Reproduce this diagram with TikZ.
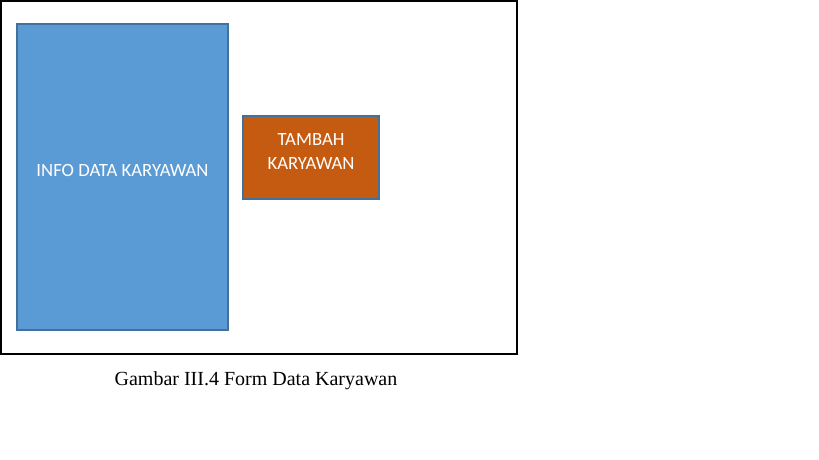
\documentclass[tikz,border=0pt]{standalone}
\usepackage{fontspec}
\setmainfont{Liberation Serif}
\newfontfamily\boxfont{Carlito}
\usepackage{tikz}
\usetikzlibrary{positioning}
\definecolor{formblue}{HTML}{5B9BD5}
\definecolor{formorange}{HTML}{C55A11}
\definecolor{formedge}{HTML}{41719C}
\tikzset{%
  formbox/.style={draw=formedge,line width=1.2pt},
  formlabel/.style={text=white,font=\boxfont\fontsize{18.7}{24}\selectfont,align=center},
}
\begin{document}
\begin{tikzpicture}[x=1pt,y=-1pt]
              \useasboundingbox (0,0) rectangle (819,460);
              \coordinate (F1) at (1,1);
              \coordinate (F2) at (517,354);
              \draw[line width=1.4pt] (F1) rectangle (F2);
              \node[formbox,fill=formblue,minimum width=211pt,minimum height=306pt] (info) at (122.5,177) {};
              \node[formlabel] (infolabel) at (122.5,170) {INFO DATA KARYAWAN};
              \node[formbox,fill=formorange,minimum width=136pt,minimum height=83pt] (tambah) at (311,157.5) {};
              \node[formlabel] (tambahlabel) at (311,151) {TAMBAH\\KARYAWAN};
              \node[font=\fontsize{20}{24}\selectfont] (caption) at (256,381) {Gambar III.4 Form Data Karyawan};
          \end{tikzpicture}
\end{document}
